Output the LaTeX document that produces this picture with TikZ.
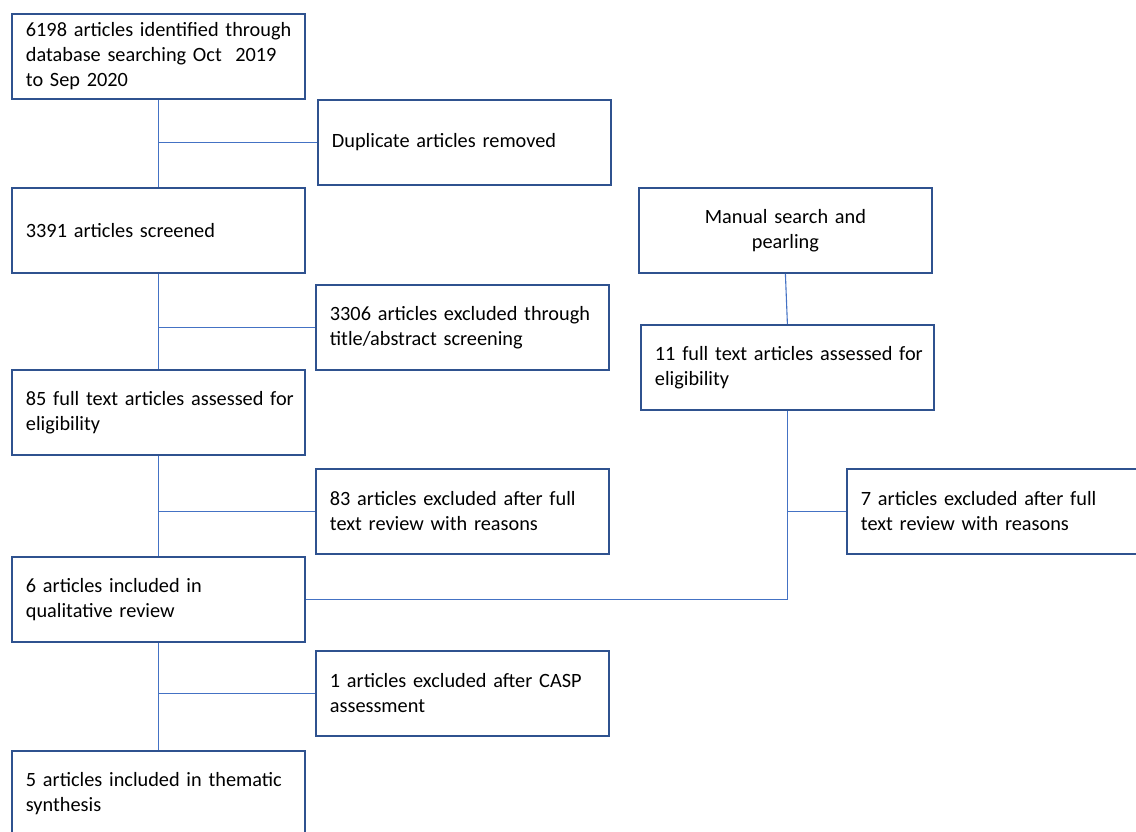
\documentclass[tikz,border=0pt]{standalone}
\usepackage{fontspec}
\setmainfont{Carlito}[WordSpace=0.75]
\definecolor{boxblue}{HTML}{2F528F}
\definecolor{lineblue}{HTML}{4472C4}
\newcommand{\oneline}[1]{\mbox{#1}}
\begin{document}
\begin{tikzpicture}[x=1bp,y=-1bp,
  box/.style={draw=boxblue,line width=1.8bp,rectangle,anchor=north west,
    minimum width=293bp,minimum height=85bp,inner xsep=14bp,inner ysep=0bp,
    text width=265bp,align=left,font=\fontsize{20.3bp}{25bp}\selectfont},
  cbox/.style={box,align=center},
  conn/.style={draw=lineblue,line width=1.1bp}]
\useasboundingbox (0,0) rectangle (1136,832);
\node[box] (A) at (11,13) {\oneline{6198 articles identified through}\\\oneline{database searching Oct\ \ 2019}\\\oneline{to Sep 2020}};
\node[box] (dup) at (317,99) {\oneline{Duplicate articles removed}};
\node[box] (B) at (11,187) {\oneline{3391 articles screened}};
\node[box] (ex1) at (315,284) {\oneline{3306 articles excluded through}\\\oneline{title/abstract screening}};
\node[box] (C) at (11,369) {\oneline{85 full text articles assessed for}\\\oneline{eligibility}};
\node[box] (ex2) at (315,468) {\oneline{83 articles excluded after full}\\\oneline{text review with reasons}};
\node[box] (D) at (11,556) {\oneline{6 articles included in}\\\oneline{qualitative review}};
\node[box] (ex3) at (315,650) {\oneline{1 articles excluded after CASP}\\\oneline{assessment}};
\node[box] (E) at (11,750) {\oneline{5 articles included in thematic}\\\oneline{synthesis}};
\node[cbox] (man) at (638,187) {\oneline{Manual search and}\\\oneline{pearling}};
\node[box] (F) at (640,324) {\oneline{11 full text articles assessed for}\\\oneline{eligibility}};
\node[box] (ex4) at (846,468) {\oneline{7 articles excluded after full}\\\oneline{text review with reasons}};
\draw[conn] (A.south) -- (B.north);
\draw[conn] (A.south |- dup.west) -- (dup.west);
\draw[conn] (B.south) -- (C.north);
\draw[conn] (B.south |- ex1.west) -- (ex1.west);
\draw[conn] (C.south) -- (D.north);
\draw[conn] (C.south |- ex2.west) -- (ex2.west);
\draw[conn] (D.south) -- (E.north);
\draw[conn] (D.south |- ex3.west) -- (ex3.west);
\draw[conn] (man.south) -- (F.north);
\draw[conn] (F.south) |- (D.east);
\draw[conn] (F.south |- ex4.west) -- (ex4.west);
\end{tikzpicture}
\end{document}
